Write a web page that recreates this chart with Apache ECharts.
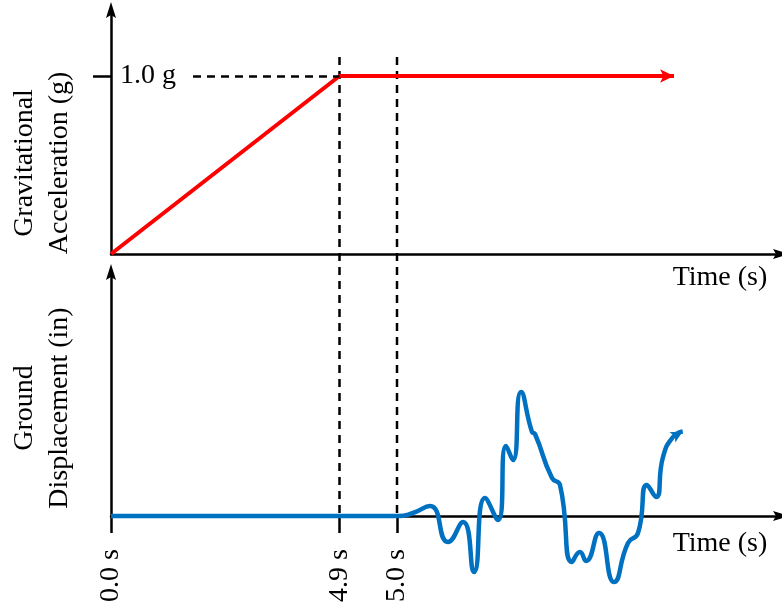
<!DOCTYPE html>
<html><head><meta charset="utf-8">
<script src="https://cdn.jsdelivr.net/npm/echarts@6/dist/echarts.min.js"></script>
<style>html,body{margin:0;padding:0;background:#fff}#c{width:782px;height:609px}</style>
</head><body><div id="c"></div><script>
const FONT = "'Liberation Serif','Times New Roman',serif";
// schematic (non-linear) time axis positions and their labels
const tickPositions = [0, 228.5, 286];
const tickLabels = ['0.0 s', '4.9 s', '5.0 s'];
// gravitational acceleration (g)
const accelX = [0, 228.5, 563];
const accelY = [0, 1.0, 1.0];
const gLevel = 1.0;
const gLabel = '1.0 g';
// ground displacement (schematic units)
const dispX = [0, 287, 302, 319, 337, 352, 363, 374, 387, 395, 402, 410, 421, 424, 441, 449, 461, 469, 475, 488, 503, 517, 527, 536, 545, 552, 562, 571.7];
const dispY = [0, 0, 0.15, 0.5, -1.3, -0.3, -2.8, 0.9, -0.2, 3.5, 2.8, 6.2, 4.2, 4.1, 1.9, 1.55, -2.3, -1.8, -2.25, -0.85, -3.3, -1.35, -0.85, 1.55, 0.95, 2.95, 3.95, 4.23];

const xMax = 670;
const accelMax = 1.3708;
const dispMax = 12.2;
const dashTop = 1.1067;

const chart = echarts.init(document.getElementById('c'));
const axisLineStyle = {color: '#000', width: 2.5};
const arrowShape = 'path://M5,0 L10,16 L5,13 L0,16 Z';
const arrowLine = {show: true, symbol: ['none', arrowShape], symbolSize: [10, 16], lineStyle: axisLineStyle};
const dash = {color: '#000', width: 2.5, type: [8, 6]};

const accelData = accelX.map((x, i) => [x, accelY[i]]);
const dispData = dispX.map((x, i) => [x, dispY[i]]);

const textGraphics = [
  {type: 'text', x: 42, y: 163, rotation: Math.PI / 2,
   style: {text: 'Gravitational\nAcceleration (g)', font: '28px ' + FONT, fill: '#000',
     align: 'center', verticalAlign: 'middle', lineHeight: 35}},
  {type: 'text', x: 42, y: 408, rotation: Math.PI / 2,
   style: {text: 'Ground\nDisplacement (in)', font: '28px ' + FONT, fill: '#000',
     align: 'center', verticalAlign: 'middle', lineHeight: 35}},
  {type: 'text', x: 720, y: 278,
   style: {text: 'Time (s)', font: '28px ' + FONT, fill: '#000', align: 'center', verticalAlign: 'middle'}},
  {type: 'text', x: 720, y: 544,
   style: {text: 'Time (s)', font: '28px ' + FONT, fill: '#000', align: 'center', verticalAlign: 'middle'}}
];

chart.setOption({
  animation: false,
  backgroundColor: '#fff',
  grid: [
    {left: 111, right: 1, top: 10, bottom: 355},
    {left: 111, right: 1, top: 272, bottom: 93}
  ],
  xAxis: [
    {gridIndex: 0, type: 'value', min: 0, max: xMax, axisLine: arrowLine,
     axisTick: {show: false}, axisLabel: {show: false}, splitLine: {show: false}},
    {gridIndex: 1, type: 'value', min: 0, max: xMax, axisLine: arrowLine,
     axisTick: {show: true, customValues: tickPositions, length: 17, inside: false, lineStyle: axisLineStyle},
     axisLabel: {show: true, customValues: tickPositions, rotate: 90, margin: 33,
       formatter: v => tickLabels[tickPositions.indexOf(v)],
       fontFamily: FONT, fontSize: 28, color: '#000'},
     splitLine: {show: false}}
  ],
  yAxis: [
    {gridIndex: 0, type: 'value', min: 0, max: accelMax, axisLine: arrowLine,
     axisTick: {show: true, customValues: [gLevel], length: 18, inside: false, lineStyle: axisLineStyle},
     axisLabel: {show: true, customValues: [gLevel], inside: true, margin: 9,
       formatter: () => gLabel, fontFamily: FONT, fontSize: 28, color: '#000'},
     splitLine: {show: false}},
    {gridIndex: 1, type: 'value', min: 0, max: dispMax, axisLine: arrowLine,
     axisTick: {show: false}, axisLabel: {show: false}, splitLine: {show: false}}
  ],
  series: [
    {type: 'line', xAxisIndex: 0, yAxisIndex: 0, data: [], z: 1, silent: true, clip: false,
     markLine: {silent: true, symbol: ['none', 'none'], label: {show: false}, lineStyle: dash,
       emphasis: {disabled: true},
       data: [
         [{coord: [82, gLevel]}, {coord: [tickPositions[1], gLevel]}]
       ]}},
    {type: 'line', name: 'Gravitational Acceleration', xAxisIndex: 0, yAxisIndex: 0, z: 3,
     data: accelData, clip: false,
     lineStyle: {color: '#ff0000', width: 4}, itemStyle: {color: '#ff0000'},
     showSymbol: true,
     symbol: (v, p) => p.dataIndex === accelData.length - 1 ? 'arrow' : 'none',
     symbolSize: [10, 14], symbolRotate: -90},
    {type: 'line', name: 'Ground Displacement', xAxisIndex: 1, yAxisIndex: 1, z: 3,
     data: dispData, clip: false, smooth: 0.55,
     lineStyle: {color: '#0070c0', width: 4.5}, itemStyle: {color: '#0070c0'},
     showSymbol: true,
     symbol: (v, p) => p.dataIndex === dispData.length - 1 ? 'arrow' : 'none',
     symbolSize: [9, 12], symbolRotate: -60}
  ],
  graphic: textGraphics
});

// vertical dashed guides at 4.9 s and 5.0 s spanning both panels, placed via the axes' scales
const guides = [tickPositions[1], tickPositions[2]].map(function (xv) {
  const top = chart.convertToPixel({gridIndex: 0}, [xv, dashTop]);
  const bot = chart.convertToPixel({gridIndex: 1}, [xv, 0]);
  return {type: 'line', z: 1, silent: true,
    shape: {x1: top[0], y1: top[1], x2: bot[0], y2: bot[1]},
    style: {stroke: '#000', lineWidth: 2.5, lineDash: [8, 6]}};
});
chart.setOption({graphic: textGraphics.concat(guides)});
</script></body></html>
